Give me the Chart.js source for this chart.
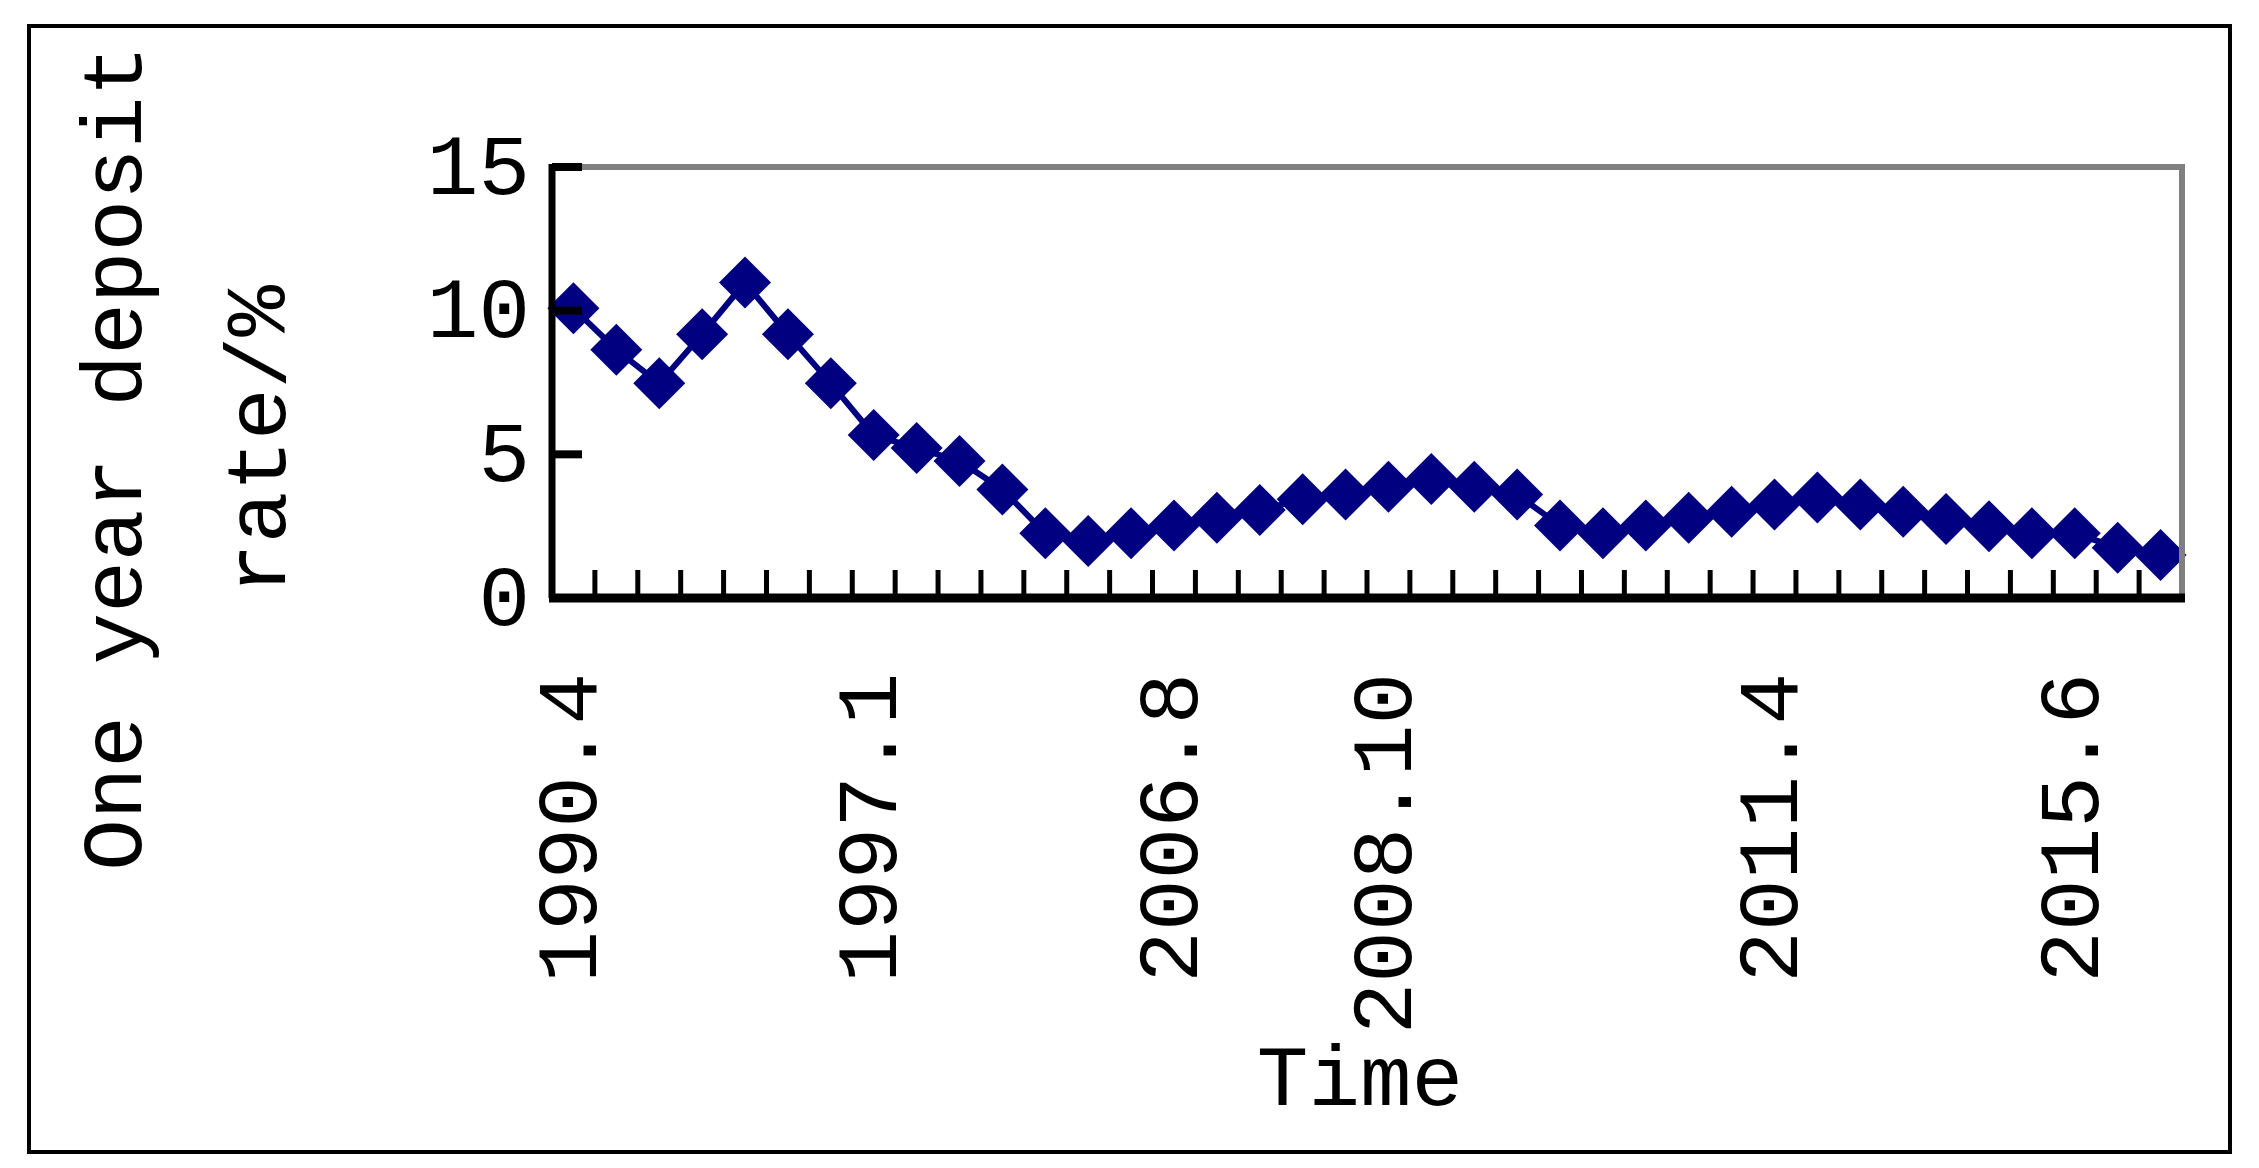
<!DOCTYPE html>
<html>
<head>
<meta charset="utf-8">
<script src="https://cdn.jsdelivr.net/npm/chart.js@4.4.0/dist/chart.umd.min.js"></script>
<style>
  html,body{margin:0;padding:0;background:#fff;}
  #wrap{width:2259px;height:1168px;}
</style>
</head>
<body>
<div id="wrap"><canvas id="c" width="2259" height="1168"></canvas></div>
<script>
// data
const categories = ['1990.4','','','','','','','1997.1','','','','','','','2006.8','','','','','2008.10','','','','','','','','','2011.4','','','','','','','2015.6','',''];
const rates = [10.08,8.64,7.47,9.18,10.98,9.18,7.47,5.67,5.22,4.77,3.78,2.25,1.98,2.25,2.52,2.79,3.06,3.44,3.60,3.87,4.14,3.87,3.60,2.52,2.25,2.52,2.79,3.00,3.25,3.50,3.25,3.00,2.75,2.50,2.25,2.25,1.75,1.50];
const yTicks = [0,5,10,15];

const FONT = '"Liberation Mono", "DejaVu Sans Mono", monospace';

const axesPlugin = {
  id:'axesPlugin',
  afterDraw(chart){
    const ctx = chart.ctx, a = chart.chartArea;
    const x = chart.scales.x, y = chart.scales.y;
    ctx.save();
    // outer frame
    ctx.strokeStyle = '#000'; ctx.lineWidth = 4;
    ctx.strokeRect(29, 26, 2201, 1126);
    // gray top/right border
    ctx.strokeStyle = '#808080'; ctx.lineWidth = 6;
    ctx.beginPath();
    ctx.moveTo(a.left, a.top); ctx.lineTo(a.right, a.top); ctx.lineTo(a.right, a.bottom);
    ctx.stroke();
    // black left & bottom axes
    ctx.strokeStyle = '#000'; ctx.lineWidth = 7;
    ctx.beginPath(); ctx.moveTo(a.left, a.top - 3); ctx.lineTo(a.left, a.bottom); ctx.stroke();
    ctx.lineWidth = 9;
    ctx.beginPath(); ctx.moveTo(a.left - 3, a.bottom); ctx.lineTo(a.right + 3, a.bottom); ctx.stroke();
    // y ticks + labels
    ctx.lineWidth = 8;
    ctx.font = '86px ' + FONT; ctx.fillStyle = '#000';
    ctx.textAlign = 'right'; ctx.textBaseline = 'middle';
    yTicks.forEach(v => {
      const py = y.getPixelForValue(v);
      ctx.beginPath(); ctx.moveTo(a.left, py); ctx.lineTo(a.left + 30, py); ctx.stroke();
      ctx.fillText(String(v), a.left - 22, py + 4);
    });
    // x ticks at category boundaries
    ctx.lineWidth = 5;
    const step = (a.right - a.left) / categories.length;
    for(let i = 1; i < categories.length; i++){
      const px = a.left + step * i;
      ctx.beginPath(); ctx.moveTo(px, a.bottom); ctx.lineTo(px, a.bottom - 28); ctx.stroke();
    }
    // rotated x labels (read bottom to top)
    categories.forEach((lab, i) => {
      if(!lab) return;
      const px = x.getPixelForValue(i);
      ctx.save();
      ctx.translate(px, a.bottom + 75);
      ctx.rotate(-Math.PI/2);
      ctx.textAlign = 'right'; ctx.textBaseline = 'middle';
      ctx.fillText(lab, 0, 0);
      ctx.restore();
    });
    // axis titles
    ctx.textAlign = 'center'; ctx.textBaseline = 'middle';
    ctx.fillText('Time', 1360, 1082);
    ctx.save();
    ctx.translate(118, 458); ctx.rotate(-Math.PI/2);
    ctx.fillText('One year deposit', 0, 0);
    ctx.restore();
    ctx.save();
    ctx.translate(262, 440); ctx.rotate(-Math.PI/2);
    ctx.fillText('rate/%', 0, 0);
    ctx.restore();
    ctx.restore();
  }
};

new Chart(document.getElementById('c'), {
  type:'line',
  data:{
    labels: categories,
    datasets:[{
      data: rates,
      borderColor:'#000080',
      backgroundColor:'#000080',
      borderWidth:6,
      pointStyle:'rectRot',
      pointRadius:26,
      pointBorderWidth:0,
      tension:0,
      clip:false
    }]
  },
  options:{
    responsive:false,
    animation:false,
    layout:{ padding:{ left:552, right:77, top:167, bottom:570 } },
    plugins:{ legend:{display:false}, tooltip:{enabled:false} },
    scales:{
      x:{ display:false, offset:true },
      y:{ display:false, min:0, max:15 }
    }
  },
  plugins:[axesPlugin]
});
</script>
</body>
</html>
